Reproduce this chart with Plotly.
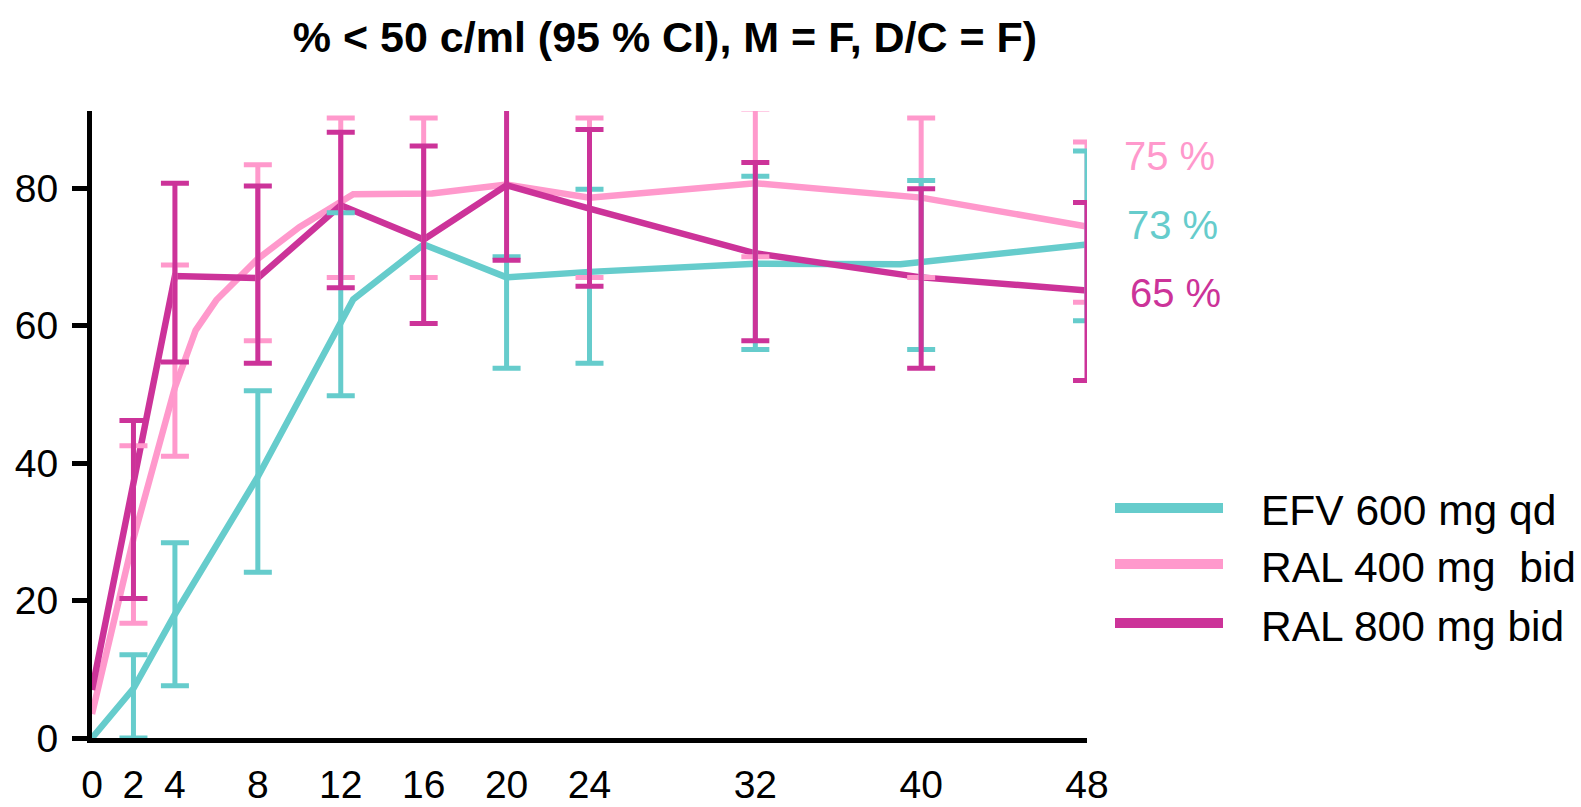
import plotly.graph_objects as go

# ---------------- data ----------------
tick_weeks = [0, 2, 4, 8, 12, 16, 20, 24, 32, 40, 48]
tick_text = ["0", "2", "4", "8", "12", "16", "20", "24", "32", "40", "48"]

# EFV 600 mg qd
efv_line_wk = [0, 2, 4, 8, 12.6, 16, 20, 24, 32, 39, 48]
efv_line_val = [0, 7.2, 18.0, 38.0, 63.8, 71.8, 67.0, 67.8, 69.0, 68.9, 71.8]
efv_ci_wk = [2, 4, 8, 12, 20, 24, 32, 40, 48]
efv_ci_lo = [0.0, 7.6, 24.1, 49.8, 53.8, 54.5, 56.5, 56.5, 60.7]
efv_ci_hi = [12.1, 28.4, 50.5, 76.4, 70.0, 79.8, 81.7, 81.1, 85.4]

# RAL 400 mg bid
r400_line_wk = [0, 2, 4, 5, 6, 8, 10, 12.6, 16.4, 20, 24, 32, 40, 48]
r400_line_val = [3.5, 29.0, 51.0, 59.3, 63.7, 69.7, 74.3, 79.1, 79.2, 80.5, 78.6, 80.7, 78.6, 74.4]
r400_ci_wk = [2, 4, 8, 12, 16, 24, 32, 40, 48]
r400_ci_lo = [16.7, 41.0, 57.8, 67.0, 67.0, 67.0, 70.0, 67.0, 63.4]
r400_ci_hi = [42.5, 68.8, 83.4, 90.2, 90.2, 90.2, 91.5, 90.2, 86.7]

# RAL 800 mg bid
r800_line_wk = [0, 2, 4, 8, 12, 16, 20, 24, 32, 40, 48]
r800_line_val = [7.0, 37.0, 67.2, 66.9, 77.5, 72.5, 80.4, 77.0, 70.5, 67.0, 65.1]
r800_ci_wk = [2, 4, 8, 12, 16, 20, 24, 32, 40, 48]
r800_ci_lo = [20.3, 54.7, 54.5, 65.5, 60.3, 69.5, 65.7, 57.8, 53.8, 52.0]
r800_ci_hi = [46.2, 80.7, 80.3, 88.1, 86.1, 91.6, 88.5, 83.7, 79.9, 77.9]

series_names = ["EFV 600 mg qd", "RAL 400 mg  bid", "RAL 800 mg bid"]
end_labels = ["73 %", "75 %", "65 %"]
colors = ["#66CCCC", "#FF99CC", "#CC3399"]

title_text = "% < 50 c/ml (95 % CI), M = F, D/C = F)"

# ---------------- figure ----------------
W, H = 1581, 807
L, R, T, B = 92, 494, 111, 69
PW, PH = W - L - R, H - T - B


def px_x(px):
    return (px - L) / PW


def px_y(py):
    return (H - B - py) / PH


fig = go.Figure()

series = [
    (efv_line_wk, efv_line_val, efv_ci_wk, efv_ci_lo, efv_ci_hi),
    (r400_line_wk, r400_line_val, r400_ci_wk, r400_ci_lo, r400_ci_hi),
    (r800_line_wk, r800_line_val, r800_ci_wk, r800_ci_lo, r800_ci_hi),
]
draw_order = [1, 0, 2]

for i in draw_order:
    lw, lv, cw, lo, hi = series[i]
    fig.add_trace(go.Scatter(
        x=lw, y=lv, mode="lines", name=series_names[i],
        line=dict(color=colors[i], width=6.5), showlegend=False,
        cliponaxis=False, hoverinfo="skip"))

for i in draw_order:
    lw, lv, cw, lo, hi = series[i]
    mid = [(a + b) / 2 for a, b in zip(lo, hi)]
    half = [(b - a) / 2 for a, b in zip(lo, hi)]
    fig.add_trace(go.Scatter(
        x=cw, y=mid, mode="markers", name=series_names[i] + " CI",
        marker=dict(size=1, color=colors[i], opacity=0),
        error_y=dict(type="data", array=half, symmetric=True,
                     color=colors[i], thickness=5, width=14),
        showlegend=False, cliponaxis=False))

annotations = []
# end-of-line percentage labels
end_y = [74.6, 84.6, 64.7]
end_shift = [38, 35, 41]
for i in range(3):
    annotations.append(dict(
        x=48, y=end_y[i], xref="x", yref="y", text=end_labels[i],
        xanchor="left", yanchor="middle", xshift=end_shift[i], showarrow=False,
        font=dict(family="Liberation Sans, Arial", size=40, color=colors[i])))

# custom legend
shapes = []
leg_y_px = [508, 564, 623]
for i in range(3):
    shapes.append(dict(type="line", xref="paper", yref="paper",
                       x0=px_x(1115), x1=px_x(1223), y0=px_y(leg_y_px[i]), y1=px_y(leg_y_px[i]),
                       line=dict(color=colors[i], width=10)))
    annotations.append(dict(
        x=px_x(1259), y=px_y(leg_y_px[i] + 3), xref="paper", yref="paper",
        text=series_names[i].replace("  ", "&nbsp; "), xanchor="left", yanchor="middle", showarrow=False,
        font=dict(family="Liberation Sans, Arial", size=42.5, color="black")))

fig.update_layout(
    width=W, height=H,
    margin=dict(l=L, r=R, t=T, b=B, autoexpand=False),
    paper_bgcolor="white", plot_bgcolor="white",
    title=dict(text="<b>" + title_text + "</b>", x=665 / W, xanchor="center",
               y=1 - 37 / H, yanchor="middle",
               font=dict(family="Liberation Sans, Arial", size=43, color="black")),
    xaxis=dict(range=[0, 48], tickvals=tick_weeks, ticktext=tick_text,
               showgrid=False, zeroline=False, showline=True, linecolor="black",
               linewidth=5, ticks="", ticklabelstandoff=8,
               tickfont=dict(family="Liberation Sans, Arial", size=39, color="black")),
    yaxis=dict(range=[0, (H - B - T) / 6.875], tickvals=[0, 20, 40, 60, 80],
               showgrid=False, zeroline=False, showline=True, linecolor="black",
               linewidth=5, ticks="outside", ticklen=15, tickwidth=5, tickcolor="black",
               ticklabelstandoff=6,
               tickfont=dict(family="Liberation Sans, Arial", size=39, color="black")),
    annotations=annotations, shapes=shapes, showlegend=False,
)

fig.write_html(
    "out.html",
    config={"displayModeBar": False},
    post_script="document.body.style.margin='0px';document.body.style.overflow='hidden';",
)
